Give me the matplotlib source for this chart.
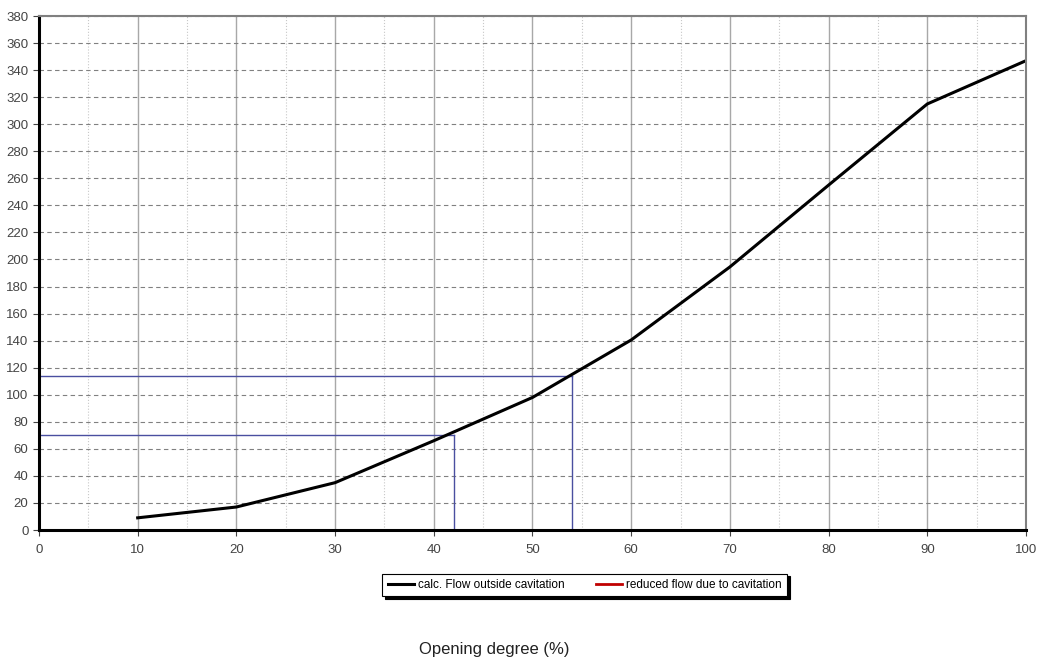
import numpy as np
import matplotlib
matplotlib.use("Agg")
from matplotlib import pyplot as plt
from matplotlib.ticker import MultipleLocator

plt.rcParams['font.family'] = ['Liberation Sans', 'DejaVu Sans']

# flow curve vs opening degree
opening = [10, 20, 30, 40, 50, 60, 70, 80, 90, 100]
flow = [9, 17, 35, 66, 98, 140.5, 194.5, 255, 315, 347]

# operating points marked with guide lines
op_x = [42, 54]
op_y = [70, 114]

fig = plt.figure(figsize=(10.39, 6.57), dpi=100)
ax = fig.add_axes([0.0375, 0.1933, 0.95, 0.7823])

ax.set_xlim(0, 100)
ax.set_ylim(0, 380)
ax.xaxis.set_major_locator(MultipleLocator(10))
ax.xaxis.set_minor_locator(MultipleLocator(5))
ax.yaxis.set_major_locator(MultipleLocator(20))

ax.grid(which='major', axis='x', color='#a8a8a8', linestyle='-', linewidth=1.0)
ax.grid(which='minor', axis='x', color='#c8c8c8', linestyle=':', linewidth=0.8)
ax.grid(which='major', axis='y', color='#808080', linestyle=(0, (4, 3)), linewidth=0.8)
ax.set_axisbelow(True)

for x, y in zip(op_x, op_y):
    ax.plot([0, x], [y, y], color='#4a4fa0', linewidth=1.0)
    ax.plot([x, x], [0, y], color='#4a4fa0', linewidth=1.0)

ax.plot(opening, flow, color='black', linewidth=2.2, label='calc. Flow outside cavitation')
ax.plot([], [], color='#c00000', linewidth=2.0, label='reduced flow due to cavitation')

for side in ['top', 'right']:
    ax.spines[side].set_color('#808080')
    ax.spines[side].set_linewidth(1.5)
for side in ['left', 'bottom']:
    ax.spines[side].set_color('black')
    ax.spines[side].set_linewidth(2.2)

ax.tick_params(which='major', labelsize=9.5, colors='#444444', length=4, width=0.8)
ax.tick_params(which='minor', length=0)
ax.tick_params(axis='x', pad=6)

leg = fig.legend(loc='center', bbox_to_anchor=(0.563, 0.1096), ncol=2, fontsize=8.5,
                 frameon=True, fancybox=False,
                 shadow={'color': 'black', 'alpha': 1.0},
                 edgecolor='black', handlelength=2.2, columnspacing=2.6,
                 borderpad=0.45, handletextpad=0.4)
leg.get_frame().set_linewidth(0.8)

fig.text(0.476, 0.012, 'Opening degree (%)', ha='center', va='center', fontsize=12, color='#222222')

fig.savefig("out.png", dpi=100, facecolor='white')
